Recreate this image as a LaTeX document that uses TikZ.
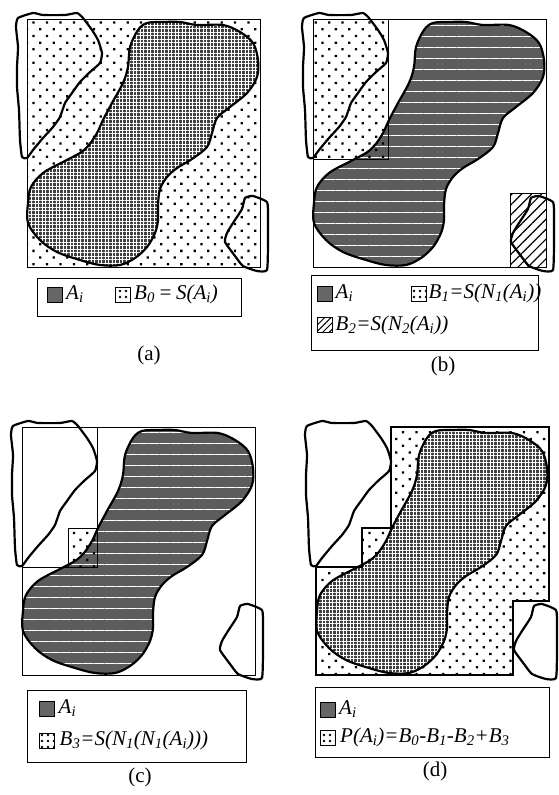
\documentclass[tikz,border=0pt]{standalone}
\usepackage{fontspec}
\setmainfont{Liberation Serif}
\usetikzlibrary{positioning, patterns.meta}

\newcommand\lowidx[1]{\textsubscript{#1}}
% outlines, in px of one panel, y downwards
\newcommand\pathAi{plot[smooth cycle, tension=0.55] coordinates {
  (111,11) (120,4) (136,3) (153,3) (170,6) (196,6) (213,13) (226,24) (231,41)
  (230,58) (220,74) (203,88) (190,99) (185,114) (180,128) (165,140) (150,149)
  (140,158) (133,170) (131,186) (131,201) (128,214) (120,228) (108,239) (93,246)
  (73,246) (53,241) (30,233) (13,221) (1,204) (1,184) (4,168) (16,154) (36,143)
  (53,134) (62,126) (70,114) (76,101) (85,84) (96,64) (101,48) (103,28)}}
\newcommand\pathLeft{plot[smooth cycle, tension=0.3] coordinates {
  (-11,8) (-9,-1) (6,-6) (16,-4) (38,-4) (50,-6) (56,-1) (65,11) (71,21) (75,34)
  (73,44) (63,53) (53,63) (45,74) (38,84) (33,98) (26,108) (16,119) (6,131)
  (0,139) (-5,138) (-7,121) (-8,91) (-10,68) (-10,48) (-9,28)}}
\newcommand\pathRight{plot[smooth cycle, tension=0.3] coordinates {
  (218,179) (226,177) (240,183) (241,198) (241,224) (240,251) (230,252)
  (216,247) (208,237) (198,223) (200,214) (206,204) (215,190)}}
\newcommand\pathSquare{(0,0) rectangle (233,248)}

\begin{document}
\begin{tikzpicture}[x=1pt, y=-1pt, font=\fontsize{21}{25}\selectfont,
  frame/.style={line width=0.8pt},
  blob/.style={line width=2.2pt, line join=round},
  aigrid/.style={fill=black!75, postaction={pattern={Hatch[angle=0,distance=3.5pt,line width=0.6pt]}, pattern color=white}},
  aistripe/.style={fill=black!64, postaction={pattern={Lines[angle=0,distance=11pt,line width=0.9pt]}, pattern color=white}},
  dotfill/.style={pattern={Dots[angle=45,distance=9.5pt,radius=1.6pt]}},
  hatchfill/.style={pattern={Lines[angle=45,distance=7pt,line width=1.2pt]}},
  legbox/.style={draw, line width=0.8pt, inner sep=0pt},
  icon/.style={draw, line width=1pt, minimum size=15pt, inner sep=0pt},
  iconai/.style={icon, fill=black!60},
  icondots/.style={icon, pattern={Dots[distance=6pt,radius=1.4pt]}},
  iconhatch/.style={icon, pattern={Lines[angle=45,distance=4.5pt,line width=1pt]}},
  legtext/.style={font=\fontsize{21}{25}\selectfont\itshape, inner sep=0.5pt}
]
  \useasboundingbox (0,0) rectangle (559,795);

  % (a)
  \begin{scope}[shift={(27,19)}]
    \fill[dotfill] \pathSquare;
    \fill[aigrid] \pathAi;
    \draw[frame] \pathSquare;
    \draw[blob] \pathAi;
    \draw[blob] \pathLeft;
    \draw[blob] \pathRight;
  \end{scope}
  \node[legbox, minimum width=204pt, minimum height=38pt] (lega) at (139,297) {};
  \node[iconai] (ia1) at (54.5,294.5) {};
  \node[legtext, right=3pt of ia1] (ta1) {A\lowidx{i}};
  \node[icondots] (ia2) at (122.5,294.5) {};
  \node[legtext, right=3pt of ia2] (ta2) {B\lowidx{0}\,=\,S(A\lowidx{i})};
  \node (capa) at (149,355) {(a)};

  % (b)
  \begin{scope}[shift={(313,19)}]
    \fill[aistripe] \pathAi;
    \fill[dotfill] (0,0) rectangle (75,140);
    \fill[hatchfill] (197,174) rectangle (233,248);
    \draw[frame] \pathSquare;
    \draw[frame] (0,0) rectangle (75,140);
    \draw[frame] (197,174) rectangle (233,248);
    \draw[blob] \pathAi;
    \draw[blob] \pathLeft;
    \draw[blob] \pathRight;
  \end{scope}
  \node[legbox, minimum width=227pt, minimum height=75pt] (legb) at (424.5,312.5) {};
  \node[iconai] (ib1) at (325,293.5) {};
  \node[legtext, right=2pt of ib1] (tb1) {A\lowidx{i}};
  \node[icondots] (ib2) at (419,293.5) {};
  \node[legtext, right=1pt of ib2] (tb2) {B\lowidx{1}=S(N\lowidx{1}(A\lowidx{i}))};
  \node[iconhatch] (ib3) at (325,325) {};
  \node[legtext, right=2pt of ib3] (tb3) {B\lowidx{2}=S(N\lowidx{2}(A\lowidx{i}))};
  \node (capb) at (443,366) {(b)};

  % (c)
  \begin{scope}[shift={(22,427)}]
    \fill[aistripe] \pathAi;
    \fill[dotfill] (46,101) rectangle (75,140);
    \draw[frame] \pathSquare;
    \draw[frame] (0,0) rectangle (75,140);
    \draw[frame] (46,101) rectangle (75,140);
    \draw[blob] \pathAi;
    \draw[blob] \pathLeft;
    \draw[blob] \pathRight;
  \end{scope}
  \node[legbox, minimum width=219pt, minimum height=72pt] (legc) at (136.5,726) {};
  \node[iconai] (ic1) at (47,708.5) {};
  \node[legtext, right=3pt of ic1] (tc1) {A\lowidx{i}};
  \node[icondots] (ic2) at (47,740.5) {};
  \node[legtext, right=4pt of ic2] (tc2) {B\lowidx{3}=S(N\lowidx{1}(N\lowidx{1}(A\lowidx{i})))};
  \node (capc) at (140,777) {(c)};

  % (d)
  \begin{scope}[shift={(316,427)}]
    \fill[dotfill] (75,0) -- (233,0) -- (233,174) -- (197,174) -- (197,248) -- (0,248)
      -- (0,140) -- (46,140) -- (46,101) -- (75,101) -- cycle;
    \fill[aigrid] \pathAi;
    \draw[line width=1.4pt] (75,0) -- (233,0) -- (233,174) -- (197,174) -- (197,248) -- (0,248)
      -- (0,140) -- (46,140) -- (46,101) -- (75,101) -- cycle;
    \draw[blob] \pathAi;
    \draw[blob] \pathLeft;
    \draw[blob] \pathRight;
  \end{scope}
  \node[legbox, minimum width=234pt, minimum height=70pt] (legd) at (432,722) {};
  \node[iconai] (id1) at (327.5,709.5) {};
  \node[legtext, right=3pt of id1] (td1) {A\lowidx{i}};
  \node[icondots] (id2) at (327.5,737.5) {};
  \node[legtext, right=4pt of id2] (td2) {P(A\lowidx{i})=B\lowidx{0}-B\lowidx{1}-B\lowidx{2}+B\lowidx{3}};
  \node (capd) at (435,771) {(d)};
\end{tikzpicture}
\end{document}
